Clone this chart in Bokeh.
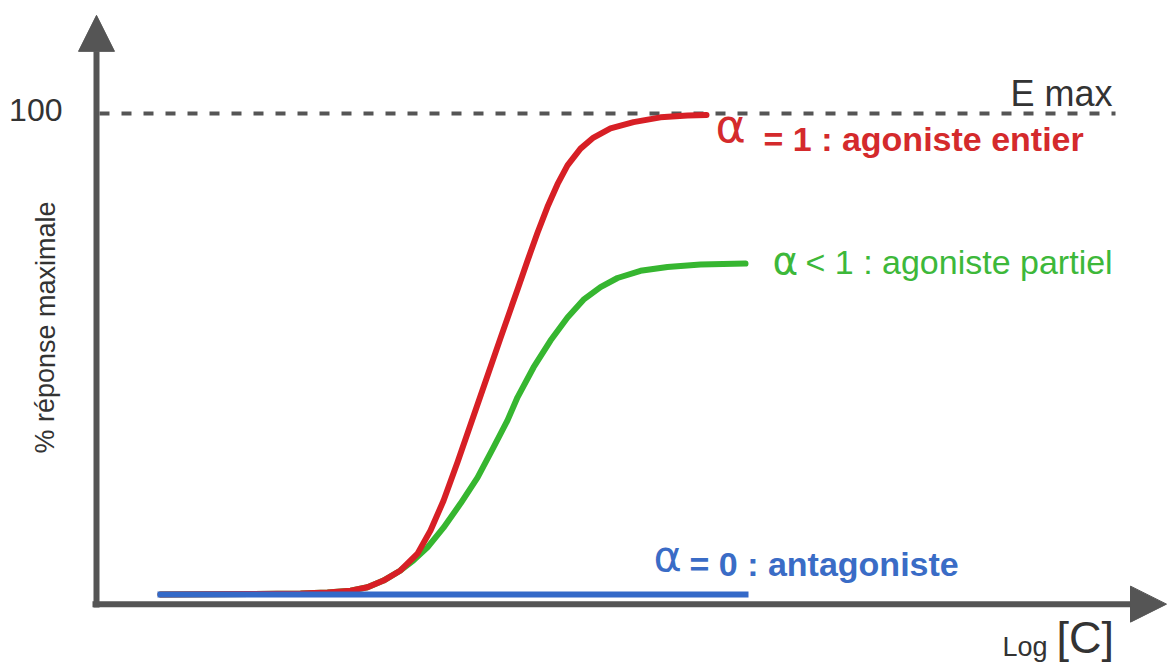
from bokeh.plotting import figure
from bokeh.models import Range1d, Arrow, NormalHead
from bokeh.core.properties import value
from bokeh.embed import file_html
from bokeh.resources import INLINE

# ---- data (x: log [C], arbitrary units; y: % of maximal response) ----
log_c_full = [0.64, 1.54, 2.04, 2.31, 2.54, 2.71, 2.87, 3.04, 3.21, 3.34, 3.47, 3.61,
              3.74, 3.89, 4.04, 4.22, 4.31, 4.41, 4.51, 4.61, 4.71, 4.84, 4.97, 5.14,
              5.37, 5.64, 5.91, 6.10]
full_agonist = [0.0, 0.1, 0.2, 0.4, 0.8, 1.5, 2.9, 5.0, 8.5, 13.3, 19.5, 27.5,
                35.3, 44.3, 53.3, 64.0, 69.4, 75.2, 80.6, 85.3, 89.2, 92.7, 95.0, 96.9,
                98.2, 99.2, 99.6, 99.7]

log_c_partial = [0.64, 1.54, 2.04, 2.31, 2.54, 2.71, 2.87, 3.04, 3.17, 3.31, 3.47, 3.64,
                 3.81, 3.97, 4.11, 4.21, 4.37, 4.54, 4.71, 4.87, 5.04, 5.21, 5.44, 5.71,
                 6.04, 6.49]
partial_agonist = [0.0, 0.1, 0.2, 0.4, 0.8, 1.5, 2.9, 5.0, 7.1, 9.8, 13.9, 18.9,
                   24.3, 30.6, 36.2, 41.0, 47.2, 52.8, 57.6, 61.3, 63.9, 65.8, 67.3, 68.1,
                   68.6, 68.8]

log_c_antag = [0.61, 6.52]
antagonist = [0.0, 0.0]

e_max = 100
y_ticks = [100]
y_tick_labels = ["100"]

AXIS = "#555555"
RED = "#d71f25"
GREEN = "#36b630"
BLUE = "#3469c8"
RED_T = "#d42a2c"
GREEN_T = "#3db83a"
BLUE_T = "#3a6cc6"
TXT = "#333333"
FONT = value("Liberation Sans")
GREEK = value("DejaVu Sans")

p = figure(width=1168, height=664,
           x_range=Range1d(-0.96, 10.72), y_range=Range1d(-14.55, 123.49),
           output_backend="svg", toolbar_location=None,
           x_axis_location=None, y_axis_location=None,
           min_border=0, outline_line_color=None)
p.grid.visible = False

# E max dashed line
p.line(x=[0.03, 10.19], y=[e_max, e_max], line_color=AXIS, line_width=4,
       line_dash="10 12")

# curves
p.line(x=log_c_partial, y=partial_agonist, line_color=GREEN, line_width=6,
       line_join="round", line_cap="round")
p.line(x=log_c_full, y=full_agonist, line_color=RED, line_width=6,
       line_join="round", line_cap="round")
p.line(x=log_c_antag, y=antagonist, line_color=BLUE, line_width=6)

# axes with arrow heads
p.add_layout(Arrow(end=NormalHead(size=36, fill_color=AXIS, line_color=AXIS),
                   x_start=-0.04, y_start=-2.0, x_end=10.70, y_end=-2.0,
                   line_width=6, line_color=AXIS))
p.add_layout(Arrow(end=NormalHead(size=36, fill_color=AXIS, line_color=AXIS),
                   x_start=0.0, y_start=-2.7, x_end=0.0, y_end=120.4,
                   line_width=6, line_color=AXIS))

# tick label 100
p.text(x=[-0.34], y=[y_ticks[0] + 0.8], text=y_tick_labels, text_font=FONT,
       text_font_size="32px", text_color=TXT, text_align="right",
       text_baseline="middle")

# E max label
p.text(x=[10.16], y=[104.2], text=["E max"], text_font=FONT,
       text_font_size="36px", text_color=TXT, text_align="right",
       text_baseline="middle")

# alpha symbols
p.text(x=[6.19], y=[97.4], text=["α"], text_font=GREEK, text_font_size="46px",
       text_color=RED_T, text_baseline="middle")
p.text(x=[6.76], y=[69.5], text=["α"], text_font=GREEK, text_font_size="39px",
       text_color=GREEN_T, text_baseline="middle")
p.text(x=[5.57], y=[8.1], text=["α"], text_font=GREEK, text_font_size="43px",
       text_color=BLUE_T, text_baseline="middle")

# series labels
p.text(x=[6.67], y=[94.8], text=["= 1 : agoniste entier"], text_font=FONT,
       text_font_size="34px", text_font_style="bold", text_color=RED_T,
       text_baseline="middle")
p.text(x=[7.09], y=[69.2], text=["< 1 : agoniste partiel"], text_font=FONT,
       text_font_size="34px", text_color=GREEN_T, text_baseline="middle")
p.text(x=[5.93], y=[6.4], text=["= 0 : antagoniste"], text_font=FONT,
       text_font_size="34px", text_font_style="bold", text_color=BLUE_T,
       text_baseline="middle")

# axis titles
p.text(x=[-0.51], y=[55.5], text=["% réponse maximale"], text_font=FONT,
       text_font_size="27px", text_color=TXT, text_align="center",
       text_baseline="middle", angle=1.5707963)
p.text(x=[9.06], y=[-10.9], text=["Log"], text_font=FONT,
       text_font_size="27px", text_color=TXT, text_baseline="middle")
p.text(x=[9.60], y=[-8.9], text=["[C]"], text_font=FONT,
       text_font_size="45px", text_color=TXT, text_baseline="middle")

open("out.html", "w").write(file_html(p, INLINE))
